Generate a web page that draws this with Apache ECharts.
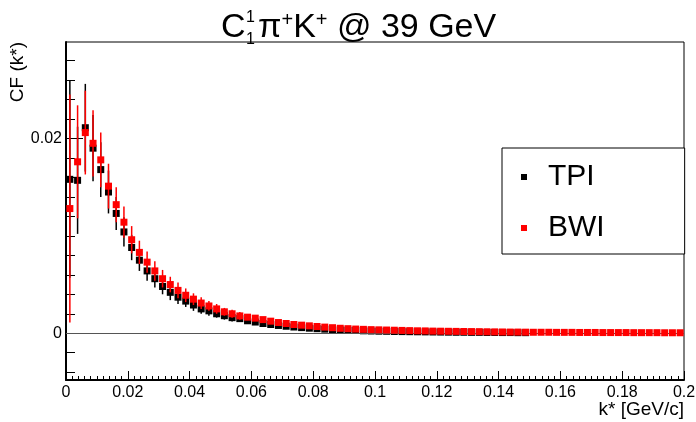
<!DOCTYPE html>
<html>
<head>
<meta charset="utf-8">
<script src="https://cdn.jsdelivr.net/npm/echarts@6/dist/echarts.min.js"></script>
<style>
  html, body { margin: 0; padding: 0; background: #fff; }
  #main-chart { width: 696px; height: 422px; }
</style>
</head>
<body>
<div id="main-chart"></div>
<script>
// bin centres of k* [GeV/c]
const kBins = [
  0.00125, 0.00375, 0.00625, 0.00875, 0.01125, 0.01375, 0.01625, 0.01875, 0.02125, 0.02375,
  0.02625, 0.02875, 0.03125, 0.03375, 0.03625, 0.03875, 0.04125, 0.04375, 0.04625, 0.04875,
  0.05125, 0.05375, 0.05625, 0.05875, 0.06125, 0.06375, 0.06625, 0.06875, 0.07125, 0.07375,
  0.07625, 0.07875, 0.08125, 0.08375, 0.08625, 0.08875, 0.09125, 0.09375, 0.09625, 0.09875,
  0.10125, 0.10375, 0.10625, 0.10875, 0.11125, 0.11375, 0.11625, 0.11875, 0.12125, 0.12375,
  0.12625, 0.12875, 0.13125, 0.13375, 0.13625, 0.13875, 0.14125, 0.14375, 0.14625, 0.14875,
  0.15125, 0.15375, 0.15625, 0.15875, 0.16125, 0.16375, 0.16625, 0.16875, 0.17125, 0.17375,
  0.17625, 0.17875, 0.18125, 0.18375, 0.18625, 0.18875, 0.19125, 0.19375, 0.19625, 0.19875
];

// TPI (black), first 60 bins
const tpiValues = [
  0.0158, 0.0157, 0.0211, 0.0190, 0.0168, 0.0145, 0.0123, 0.0104, 0.0088, 0.0075,
  0.0064, 0.0056, 0.0048, 0.0042, 0.0037, 0.0033, 0.0029, 0.0025, 0.0023, 0.0020,
  0.0018, 0.0016, 0.0015, 0.00128, 0.00115, 0.0010, 0.0009, 0.0008, 0.00072, 0.00064,
  0.00058, 0.00052, 0.00047, 0.00042, 0.00038, 0.00034, 0.00031, 0.00028, 0.00025, 0.00023,
  0.00021, 0.0002, 0.00018, 0.00017, 0.00016, 0.00015, 0.00014, 0.00013, 0.00012, 0.00011,
  0.0001, 0.0001, 0.00009, 0.00009, 0.00008, 0.00008, 0.00007, 0.00007, 0.00006, 0.00006
];
const tpiErrors = [
  0.0101, 0.0055, 0.0045, 0.0034, 0.0028, 0.0022, 0.0017, 0.0015, 0.0013, 0.0011,
  0.0010, 0.0009, 0.0008, 0.0008, 0.0007, 0.0006, 0.0006, 0.0005, 0.0005, 0.0004,
  0.0004, 0.0004, 0.0003, 0.0003, 0.0003, 0.00025, 0.00022, 0.0002, 0.00018, 0.00016,
  0.00015, 0.00014, 0.00013, 0.00012, 0.00011, 0.0001, 0.0001, 0.00009, 0.00009, 0.00008,
  0.00008, 0.00007, 0.00007, 0.00007, 0.00006, 0.00006, 0.00006, 0.00005, 0.00005, 0.00005,
  0.00005, 0.00004, 0.00004, 0.00004, 0.00004, 0.00004, 0.00003, 0.00003, 0.00003, 0.00003
];

// BWI (red), all 80 bins
const bwiValues = [
  0.0128, 0.0176, 0.0206, 0.0195, 0.0178, 0.0151, 0.0132, 0.0114, 0.0096, 0.0083,
  0.0073, 0.0064, 0.0056, 0.0050, 0.0044, 0.0039, 0.0035, 0.0031, 0.0028, 0.0025,
  0.0022, 0.0020, 0.00178, 0.00165, 0.00155, 0.0014, 0.00124, 0.0011, 0.0010, 0.0009,
  0.00083, 0.00076, 0.00069, 0.00063, 0.00057, 0.00051, 0.00047, 0.00043, 0.0004, 0.00037,
  0.00035, 0.00033, 0.00031, 0.00029, 0.00027, 0.00025, 0.00024, 0.00022, 0.00021, 0.0002,
  0.00019, 0.00018, 0.00017, 0.00016, 0.00015, 0.00014, 0.00013, 0.00012, 0.00012, 0.00011,
  0.0001, 0.0001, 0.0001, 0.00009, 0.00009, 0.00009, 0.00008, 0.00008, 0.00008, 0.00007,
  0.00007, 0.00007, 0.00007, 0.00006, 0.00006, 0.00006, 0.00006, 0.00005, 0.00005, 0.00005
];
const bwiErrors = [
  0.0117, 0.0058, 0.0043, 0.0034, 0.0028, 0.0023, 0.0018, 0.0016, 0.0014, 0.0012,
  0.0011, 0.0010, 0.0009, 0.0008, 0.0008, 0.0007, 0.0006, 0.0006, 0.0005, 0.0005,
  0.0004, 0.0004, 0.0004, 0.0003, 0.0003, 0.00025, 0.00022, 0.0002, 0.00018, 0.00016,
  0.00015, 0.00014, 0.00013, 0.00012, 0.00011, 0.0001, 0.0001, 0.00009, 0.00009, 0.00008,
  0.00008, 0.00007, 0.00007, 0.00007, 0.00006, 0.00006, 0.00006, 0.00005, 0.00005, 0.00005,
  0.00005, 0.00004, 0.00004, 0.00004, 0.00004, 0.00004, 0.00003, 0.00003, 0.00003, 0.00003,
  0.00003, 0.00003, 0.00003, 0.00003, 0.00003, 0.00003, 0.00003, 0.00003, 0.00003, 0.00003,
  0.00003, 0.00003, 0.00003, 0.00003, 0.00003, 0.00003, 0.00003, 0.00003, 0.00003, 0.00003
];

// axis ticks
const yMajorTicks = [0, 0.02];
const yMinorTicks = [-0.004, -0.002, 0.002, 0.004, 0.006, 0.008, 0.01, 0.012, 0.014, 0.016,
  0.018, 0.022, 0.024, 0.026, 0.028];

const FONT = '"Liberation Sans", Arial, Helvetica, sans-serif';
const Y_MIN = -0.0048;
const Y_MAX = 0.0299;

const chartDom = document.getElementById('main-chart');
const myChart = echarts.init(chartDom, null, { renderer: 'canvas' });

const pts = (vals) => vals.map((v, i) => [kBins[i], v]);
const errPts = (vals, errs) => vals.map((v, i) => [kBins[i], v, errs[i]]);

function errorBar(color) {
  return function (params, api) {
    const x = api.value(0), y = api.value(1), e = api.value(2);
    const top = api.coord([x, y + e]);
    const bot = api.coord([x, y - e]);
    return {
      type: 'line',
      shape: { x1: top[0], y1: top[1], x2: bot[0], y2: bot[1] },
      style: { stroke: color, lineWidth: 1.5 }
    };
  };
}

const option = {
  animation: false,
  backgroundColor: '#fff',
  textStyle: { fontFamily: FONT },
  grid: {
    left: 66, right: 12, top: 42, bottom: 42,
    outerBoundsMode: 'none',
    containLabel: false,
    show: true, borderColor: '#000', borderWidth: 1, backgroundColor: 'transparent'
  },
  legend: {
    orient: 'vertical',
    left: 502, top: 148,
    data: [{ name: 'TPI', icon: 'rect' }, { name: 'BWI', icon: 'rect' }],
    itemWidth: 6, itemHeight: 6, itemGap: 21,
    padding: [14, 80, 11, 19],
    borderColor: '#000', borderWidth: 1, backgroundColor: '#fff',
    textStyle: { fontSize: 30, fontFamily: FONT, color: '#000', lineHeight: 30, padding: [0, 0, 0, 16] },
    selectedMode: false
  },
  xAxis: {
    type: 'value',
    min: 0, max: 0.2, interval: 0.02,
    axisLine: { show: true, onZero: false, lineStyle: { color: '#000', width: 2 } },
    axisTick: { show: true, inside: true, length: 9, lineStyle: { color: '#000' } },
    minorTick: { show: true, splitNumber: 10, length: 4, lineStyle: { color: '#000' } },
    axisLabel: {
      fontSize: 16, color: '#000', margin: 5, fontFamily: FONT,
      formatter: (v) => String(+v.toFixed(3))
    },
    splitLine: { show: false }
  },
  yAxis: [
    {
      type: 'value',
      min: Y_MIN, max: Y_MAX,
      axisLine: { show: true, onZero: false, lineStyle: { color: '#000', width: 2 } },
      axisTick: { show: true, inside: true, length: 17, customValues: yMajorTicks, lineStyle: { color: '#000' } },
      axisLabel: {
        fontSize: 16, color: '#000', margin: 4, fontFamily: FONT,
        customValues: yMajorTicks,
        formatter: (v) => String(+v.toFixed(3))
      },
      splitLine: { show: false }
    },
    {
      type: 'value',
      min: Y_MIN, max: Y_MAX,
      position: 'left',
      axisLine: { show: false },
      axisTick: { show: true, inside: true, length: 9, customValues: yMinorTicks, lineStyle: { color: '#000' } },
      axisLabel: { show: false },
      splitLine: { show: false }
    }
  ],
  graphic: [
    {
      type: 'text', x: 18, y: 42, rotation: Math.PI / 2,
      style: { text: 'CF (k*)', font: '19px ' + FONT, fill: '#000', align: 'right', verticalAlign: 'middle' }
    },
    {
      type: 'text', x: 684, y: 410,
      style: { text: 'k* [GeV/c]', font: '19px ' + FONT, fill: '#000', align: 'right', verticalAlign: 'middle' }
    },
    {
      type: 'text', x: 221, y: 28,
      style: { text: 'C', font: '34px ' + FONT, fill: '#000', align: 'left', verticalAlign: 'middle' }
    },
    {
      type: 'text', x: 246, y: 18,
      style: { text: '1', font: '16px ' + FONT, fill: '#000', align: 'left', verticalAlign: 'middle' }
    },
    {
      type: 'text', x: 246, y: 40,
      style: { text: '1', font: '16px ' + FONT, fill: '#000', align: 'left', verticalAlign: 'middle' }
    },
    {
      type: 'text', x: 258, y: 28,
      style: {
        text: '{m|π}{s|+}{m|K}{s|+}{m| @ 39 GeV}',
        align: 'left', verticalAlign: 'middle',
        rich: {
          m: { fontSize: 34, fontFamily: FONT, color: '#000', lineHeight: 36 },
          s: { fontSize: 20, fontFamily: FONT, color: '#000', verticalAlign: 'top', lineHeight: 36 }
        }
      }
    }
  ],
  series: [
    {
      name: 'TPI err', type: 'custom', z: 2,
      renderItem: errorBar('#000'),
      data: errPts(tpiValues, tpiErrors),
      encode: { x: 0, y: 1 }
    },
    {
      name: 'TPI', type: 'scatter', z: 3,
      symbol: 'rect', symbolSize: 7,
      itemStyle: { color: '#000', opacity: 1 },
      data: pts(tpiValues),
      markLine: {
        silent: true, symbol: 'none', label: { show: false },
        lineStyle: { color: '#555', width: 1, type: 'solid' },
        data: [{ yAxis: 0 }]
      }
    },
    {
      name: 'BWI err', type: 'custom', z: 4,
      renderItem: errorBar('#ff0000'),
      data: errPts(bwiValues, bwiErrors),
      encode: { x: 0, y: 1 }
    },
    {
      name: 'BWI', type: 'scatter', z: 5,
      symbol: 'rect', symbolSize: 7,
      itemStyle: { color: '#ff0000', opacity: 1 },
      data: pts(bwiValues)
    }
  ]
};

myChart.setOption(option);
window.addEventListener('resize', myChart.resize);
</script>
</body>
</html>
